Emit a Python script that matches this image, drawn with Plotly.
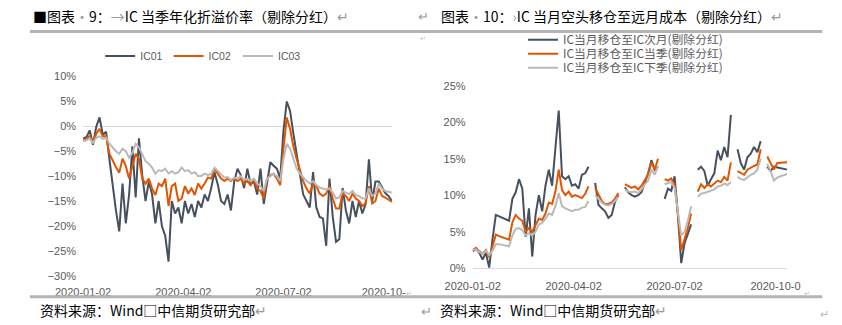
import plotly.graph_objects as go

# ---------------- data: left chart (annualised basis, %) ----------------
left_days = list(range(0, 190, 2))
ic01 = [-2.4, -2.2, -0.8, -3.7, -0.1, 1.8, -1.7, -1.1, -6.6, -12.4, -16.9, -21.1, -11.5, -19.5, -13.7, -4.0,
        -14.3, -2.4, -9.8, -15.0, -11.1, -13.7, -19.5, -15.0, -20.1, -22.0, -27.2, -15.0, -17.5, -16.3, -19.5,
        -15.0, -17.5, -15.6, -18.2, -15.0, -16.3, -13.7, -15.0, -12.4, -9.2, -11.7, -15.0, -15.6, -13.7, -16.9,
        -11.1, -8.5, -9.8, -12.4, -8.5, -11.7, -11.1, -13.7, -8.5, -15.6, -11.1, -7.2, -7.9, -8.5, -10.5, -0.8,
        5.0, 3.1, -1.4, -5.3, -9.2, -13.7, -15.0, -16.3, -9.2, -16.3, -18.2, -18.5, -24.0, -10.5, -18.2, -23.2,
        -22.7, -12.4, -16.9, -19.5, -15.0, -18.2, -15.0, -17.5, -15.6, -6.6, -15.0, -11.1, -11.1, -12.4, -13.4,
        -14.0, -15.0]
ic02 = [-2.7, -2.5, -2.0, -3.3, -1.5, -0.5, -2.0, -2.0, -5.5, -7.0, -8.2, -9.3, -6.5, -8.0, -10.5, -8.0,
        -5.5, -6.5, -10.5, -11.5, -10.5, -12.5, -13.8, -11.5, -12.0, -10.5, -16.0, -12.0, -11.5, -15.0, -14.5,
        -12.0, -13.5, -12.5, -13.8, -11.5, -12.5, -11.5, -10.3, -10.5, -8.5, -9.5, -10.5, -11.0, -10.5, -11.0,
        -10.5, -11.0, -10.5, -11.5, -11.0, -11.8, -10.5, -12.5, -13.0, -14.5, -10.5, -9.8, -9.5, -10.5, -11.8,
        -4.5, 1.8, -0.5, -4.0, -6.5, -9.0, -11.0, -12.5, -13.5, -11.5, -12.0, -13.5, -14.0, -13.5, -12.0, -14.5,
        -16.5, -16.5, -13.5, -14.0, -15.0, -13.5, -14.5, -15.0, -16.0, -15.5, -12.0, -15.5, -15.0, -12.5, -14.0,
        -14.3, -14.7, -15.2]
ic03 = [-3.0, -2.8, -2.4, -3.3, -2.3, -2.0, -2.5, -2.3, -3.5, -4.3, -5.0, -5.5, -4.5, -5.0, -6.3, -5.3,
        -3.5, -4.2, -5.5, -7.0, -7.5, -8.3, -9.5, -8.8, -9.0, -8.5, -9.5, -9.0, -9.5, -9.2, -8.3, -9.0, -8.8,
        -9.5, -9.2, -10.0, -10.0, -9.5, -9.8, -9.5, -8.3, -9.0, -9.8, -10.3, -10.2, -10.8, -10.3, -10.5, -10.0,
        -10.8, -10.5, -11.0, -10.5, -11.5, -12.0, -13.0, -10.5, -10.0, -9.5, -10.0, -11.0, -6.5, -3.5, -4.5,
        -6.5, -8.5, -9.5, -10.3, -11.0, -11.5, -11.0, -11.8, -12.3, -12.5, -12.7, -12.5, -13.3, -14.5, -14.3,
        -13.0, -13.3, -13.6, -13.0, -13.8, -14.0, -14.5, -14.5, -12.5, -14.0, -13.5, -11.5, -12.5, -13.0, -13.2,
        -13.3]
left_tick_days = [0, 61, 122, 183]
left_tick_text = ["2020-01-02", "2020-04-02", "2020-07-02", "2020-10-"]
left_names = ["IC01", "IC02", "IC03"]

# ---------------- data: right chart (roll cost, %) ----------------
right_days = list(range(0, 192, 2))
roll_next_month = [2.3, 2.7, 2.1, 1.2, 2.1, 0.1, 4.0, 7.3, 7.1, 6.9, 6.7, 6.5, 9.5, 10.4, 12.2, 10.9,
                   4.3, 8.2, 1.6, 7.3, 10.0, 7.8, 11.3, 13.5, 11.3, 16.6, 21.6, 12.6, 12.2, 12.6, 11.3, 11.5,
                   10.9, 12.8, 13.0, 13.9, None, 11.7, 8.7, 8.2, 7.8, 6.9, 7.3, 9.1, 10.0, None, 11.1, 10.4,
                   10.0, 9.8, 10.0, 10.4, 11.7, 13.0, 14.8, 13.5, 13.9, None, 9.5, 10.9, 10.6, 12.6, 7.3, 0.7,
                   3.4, 4.7, 6.0, None, 13.5, 13.9, 13.3, 11.3, 12.2, 13.0, 16.1, 14.8, 16.6, 15.2, 21.0, None,
                   16.3, 14.4, 13.5, 15.2, 15.7, 16.6, 15.9, 17.4, None, 13.9, 13.3, 13.9, 13.8, 13.7, 13.6, 13.5]
roll_this_quarter = [2.5, 2.8, 2.3, 2.0, 2.5, 1.5, 3.0, 4.6, 4.4, 4.2, 4.0, 3.9, 6.3, 7.3, 6.8, 6.5,
                     5.0, 5.5, 5.0, 6.0, 6.8, 6.6, 7.5, 9.0, 8.8, 10.5, 13.5, 10.7, 10.0, 10.5, 9.8, 10.0,
                     9.8, 9.6, 10.2, 11.2, None, 11.0, 10.2, 9.2, 8.8, 8.8, 9.0, 9.5, 10.3, None, 11.5, 11.2,
                     11.0, 11.2, 10.8, 11.3, 12.0, 12.8, 14.5, 13.5, 15.0, None, 12.2, 12.0, 12.3, 11.5, 7.5, 2.5,
                     4.0, 5.5, 7.5, None, 10.5, 11.5, 11.0, 11.5, 11.2, 11.6, 12.0, 11.8, 12.5, 12.0, 14.5, None,
                     13.3, 13.0, 12.8, 13.5, 13.8, 14.0, 14.2, 16.3, None, 15.3, 14.5, 13.5, 14.4, 14.4, 14.5, 14.5]
roll_next_quarter = [2.5, 2.6, 2.2, 2.0, 2.4, 1.8, 2.4, 3.3, 3.3, 3.2, 3.1, 3.0, 4.5, 5.4, 5.5, 5.2,
                     4.5, 4.8, 4.5, 5.0, 6.0, 6.2, 6.8, 7.5, 7.3, 8.5, 10.3, 8.5, 8.2, 8.0, 7.8, 8.0,
                     8.0, 8.3, 8.4, 9.2, None, 10.0, 9.5, 9.0, 8.7, 8.6, 8.8, 9.2, 9.8, None, 10.8, 10.5,
                     10.4, 10.5, 10.3, 10.8, 11.5, 12.0, 13.5, 12.8, 14.0, None, 11.5, 11.6, 11.8, 11.0, 8.0, 4.5,
                     5.0, 6.5, 8.5, None, 9.8, 10.2, 10.3, 10.5, 10.6, 10.8, 11.2, 11.3, 11.6, 11.4, 11.8, None,
                     12.5, 12.2, 12.1, 12.5, 12.8, 13.0, 13.5, 15.0, None, 14.3, 13.3, 12.0, 12.4, 12.6, 12.8, 12.9]
right_tick_days = [0, 61, 122, 183]
right_tick_text = ["2020-01-02", "2020-04-02", "2020-07-02", "2020-10-0"]
right_names = ["IC当月移仓至IC次月(剔除分红)", "IC当月移仓至IC当季(剔除分红)", "IC当月移仓至IC下季(剔除分红)"]

colors = ["#46505e", "#e15500", "#b9b9b9"]

W, H = 842, 325
def px(x):
    return x / W
def py(y):
    return (H - y) / H

fig = go.Figure()

left_series = [ic01, ic02, ic03]
for i, (name, vals) in enumerate(zip(left_names, left_series)):
    fig.add_trace(go.Scatter(x=left_days, y=vals, name=name, mode="lines",
                             line=dict(color=colors[i], width=2),
                             xaxis="x", yaxis="y", legend=["legend", "legend2", "legend3"][i]))

right_series = [roll_next_month, roll_this_quarter, roll_next_quarter]
for i, (name, vals) in enumerate(zip(right_names, right_series)):
    fig.add_trace(go.Scatter(x=right_days, y=vals, name=name, mode="lines",
                             line=dict(color=colors[i], width=2), connectgaps=False,
                             xaxis="x2", yaxis="y2", legend=["legend4", "legend5", "legend6"][i]))

tickfont = dict(family="Liberation Sans", size=11, color="#595959")
legfont = dict(family="Liberation Sans", size=10.5, color="#595959")
legfont_cjk = dict(family="Noto Sans CJK SC", size=11.8, color="#595959")

def leg(x, y, font):
    return dict(x=px(x), y=py(y), xanchor="left", yanchor="middle", orientation="v",
                font=font, bgcolor="rgba(0,0,0,0)", borderwidth=0,
                itemwidth=30, tracegroupgap=0)

fig.update_layout(
    width=W, height=H,
    margin=dict(l=0, r=0, t=0, b=0),
    paper_bgcolor="white", plot_bgcolor="white",
    showlegend=True,
    xaxis=dict(domain=[px(58), px(383)], range=[0, 188], showgrid=False, zeroline=False,
               showline=False, ticks="", tickvals=left_tick_days, ticktext=left_tick_text,
               tickfont=tickfont, anchor="y", ticklabelstandoff=8),
    yaxis=dict(domain=[py(280), py(73.3)], range=[-30, 10], dtick=5, tick0=0, showgrid=False,
               zeroline=True, zerolinecolor="#d9d9d9", zerolinewidth=1, showline=False,
               ticks="", ticksuffix="%", tickfont=tickfont, anchor="x", ticklabelstandoff=6),
    xaxis2=dict(domain=[px(468), px(799)], range=[0, 190], showgrid=False, zeroline=False,
                showline=False, ticks="", tickvals=right_tick_days, ticktext=right_tick_text,
                tickfont=tickfont, anchor="y2", ticklabelstandoff=10),
    yaxis2=dict(domain=[py(272.3), py(82.7)], range=[0, 25], dtick=5, tick0=0, showgrid=False,
                zeroline=True, zerolinecolor="#d9d9d9", zerolinewidth=1, showline=False,
                ticks="", ticksuffix="%", tickfont=tickfont, anchor="x2", ticklabelstandoff=6),
    legend=leg(76, 52, legfont),
    legend2=leg(148, 52, legfont),
    legend3=leg(221, 52, legfont),
    legend4=leg(521, 35, legfont_cjk),
    legend5=leg(521, 49.5, legfont_cjk),
    legend6=leg(521, 64, legfont_cjk),
)

# separator lines
for yy in (26.5, 302):
    fig.add_shape(type="line", xref="paper", yref="paper", x0=px(2), x1=px(836), y0=py(yy), y1=py(yy),
                  line=dict(color="#b4b4b4", width=3))

titlefont = dict(family="Noto Sans CJK SC", size=14, color="#000000")
gray = "#9a9a9a"
annos = [
    (3, 10, "■图表<span style='color:%s'>·</span>9：<span style='color:%s'>→</span>IC 当季年化折溢价率（剔除分红）<span style='color:%s'>↵</span>" % (gray, gray, gray), titlefont),
    (433, 10, "图表<span style='color:%s'>·</span>10：<span style='color:%s'>›</span>IC 当月空头移仓至远月成本（剔除分红）<span style='color:%s'>↵</span>" % (gray, gray, gray), titlefont),
    (408, 10, "↵", dict(family="Noto Sans CJK SC", size=13, color=gray)),
    (10, 316, "资料来源：Wind□中信期货研究部<span style='color:%s'>↵</span>" % gray, titlefont),
    (432, 316, "资料来源：Wind□中信期货研究部<span style='color:%s'>↵</span>" % gray, titlefont),
    (412, 316, "↵", dict(family="Noto Sans CJK SC", size=13, color=gray)),
    (832, 319, "↵", dict(family="Noto Sans CJK SC", size=11, color="#bbbbbb")),
    (410, 33, "↵", dict(family="Noto Sans CJK SC", size=7, color="#bbbbbb")),
    (396, 298, "↵", dict(family="Noto Sans CJK SC", size=7, color="#bbbbbb")),
    (815, 298, "↵", dict(family="Noto Sans CJK SC", size=7, color="#bbbbbb")),
]
for x, y, t, f in annos:
    fig.add_annotation(x=px(x), y=py(y), xref="paper", yref="paper", text=t, showarrow=False,
                       xanchor="left", yanchor="middle", font=f)

fig.write_html("out.html")
